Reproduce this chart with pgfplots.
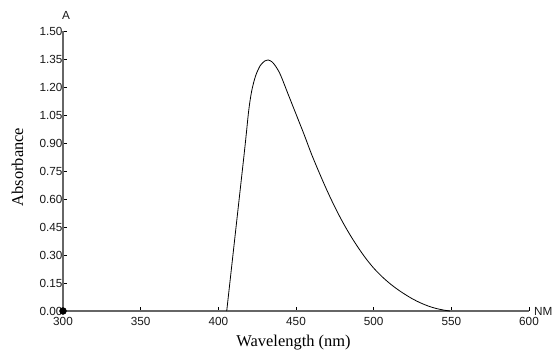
\documentclass[border=0pt]{standalone}
\usepackage{pgfplots}
\pgfplotsset{compat=1.18}
\usepackage{fontspec}
\setmainfont{Liberation Serif}
\newfontfamily\arialf{Liberation Sans}
\newcommand{\tickfont}{\arialf\fontsize{11.8}{12}\selectfont}
\begin{document}
\begin{tikzpicture}[x=1bp,y=1bp]
\path[use as bounding box] (0,0) rectangle (553,350);
\begin{axis}[
  at={(63bp,39bp)}, anchor=south west,
  scale only axis, width=466bp, height=280bp,
  xmin=300, xmax=600, ymin=0, ymax=1.5,
  axis lines*=left,
  axis line style={draw=black!60, line width=1.5pt},
  xtick={300,350,...,600},
  ytick={0,0.15,...,1.51},
  tick align=inside,
  major tick length=4bp,
  tick style={black, line width=0.7pt},
  /pgf/number format/assume math mode=true,
  ticklabel style={font=\tickfont, text=black!90},
  yticklabel style={/pgf/number format/.cd, fixed, fixed zerofill, precision=2},
  xticklabel style={/pgf/number format/.cd, fixed, precision=0, 1000 sep={}},
  xticklabel shift=3bp,
  yticklabel shift=-3bp,
  clip=false,
]
\addplot[black, line width=0.8pt, smooth, tension=0.5] coordinates {
(405.4,0) (411,0.42) (417,0.87) (419.5,1.07) (421.5,1.18) (424,1.26)
(427,1.315) (430,1.34) (432,1.345) (434.5,1.335) (437,1.31) (440,1.265)
(445,1.16) (450,1.055) (455,0.95) (460,0.84) (465,0.74) (470,0.645)
(475,0.557) (480,0.477) (485,0.405) (490,0.34) (495,0.281) (500,0.23)
(505,0.187) (510,0.15) (515,0.118) (520,0.09) (525,0.065) (530,0.044)
(535,0.027) (540,0.014) (545,0.005) (549,0)
};
\addplot[only marks, mark=*, mark size=3.5bp, black] coordinates {(300,0)};
\end{axis}
\node[font=\tickfont, text=black!90] at (66,335) {A};
\node[font=\tickfont, text=black!90, anchor=east, inner sep=0pt] at (552.5,39) {NM};
\node[font=\fontsize{16.5}{18}\selectfont, rotate=90, anchor=base] at (23,183) {Absorbance};
\node[font=\fontsize{16.5}{18}\selectfont, anchor=base] at (293.5,4) {Wavelength (nm)};
\end{tikzpicture}
\end{document}
